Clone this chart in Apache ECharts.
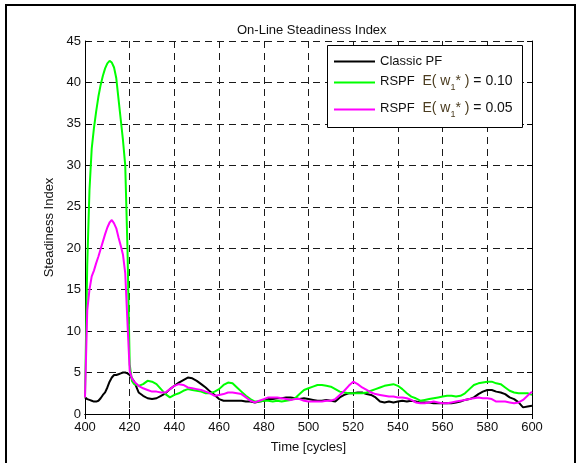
<!DOCTYPE html>
<html>
<head>
<meta charset="utf-8">
<title>On-Line Steadiness Index</title>
<script src="https://cdn.jsdelivr.net/npm/echarts@6/dist/echarts.min.js"></script>
<style>
  html, body { margin: 0; padding: 0; background: #fff; }
  #main { width: 581px; height: 463px; }
</style>
</head>
<body>
<div id="main"></div>
<script>
// time samples [cycles]
var timeCycles = [400,401,402,403,404,405,406,407,408,409,410,411,412,413,414,415,416,417,418,419,420,421,422,
  424,426,428,430,432,434,436,438,440,442,444,446,448,450,452,454,456,458,460,462,464,466,468,470,
  472,474,476,478,480,482,484,486,488,490,492,494,496,498,500,502,504,506,508,510,512,514,516,518,520,
  522,524,526,528,530,532,534,536,538,540,542,544,546,548,550,552,554,556,558,560,562,564,566,568,570,
  572,574,576,578,580,582,584,586,588,590,592,594,596,598,600];

var classicPF = [2.0,1.8,1.7,1.6,1.5,1.5,1.6,1.9,2.3,2.6,3.2,3.9,4.4,4.7,4.7,4.8,4.9,5.0,5.0,4.9,4.7,4.3,3.9,
  2.6,2.2,1.9,1.8,1.9,2.2,2.5,3.0,3.4,3.8,4.1,4.4,4.3,4.0,3.6,3.2,2.7,2.3,1.8,1.6,1.6,1.6,1.6,1.6,
  1.5,1.5,1.4,1.5,1.6,1.8,1.8,1.9,1.9,2.0,2.0,1.9,1.8,1.9,1.8,1.7,1.6,1.6,1.7,1.6,1.5,2.0,2.3,2.5,2.5,
  2.6,2.6,2.4,2.3,2.0,1.5,1.4,1.5,1.4,1.5,1.6,1.5,1.6,1.5,1.4,1.4,1.4,1.3,1.3,1.3,1.3,1.3,1.4,1.5,1.7,
  1.8,2.0,2.4,2.7,2.9,2.9,2.7,2.6,2.4,2.0,1.8,1.4,0.8,0.9,1.0];

var rspf010 = [2.0,18,27,32,34.5,36.5,38.3,39.7,40.8,41.7,42.3,42.6,42.4,41.8,40.5,38,35.5,33,30,20,6,4.0,3.6,
  3.4,3.6,4.0,3.9,3.6,3.0,2.4,2.0,2.3,2.5,2.8,3.0,2.9,2.8,2.7,2.5,2.5,2.7,3.0,3.5,3.8,3.7,3.2,2.7,
  2.2,1.8,1.5,1.5,1.6,1.6,1.5,1.6,1.5,1.6,1.7,1.9,2.4,2.9,3.1,3.3,3.5,3.5,3.4,3.3,3.0,2.7,2.6,2.5,2.5,
  2.5,2.5,2.6,2.8,3.0,3.2,3.4,3.5,3.6,3.4,3.0,2.5,2.1,1.9,1.6,1.7,1.8,1.9,2.0,2.1,2.2,2.2,2.1,2.2,2.5,
  3.0,3.5,3.7,3.8,3.9,3.9,3.7,3.6,3.2,2.8,2.6,2.5,2.5,2.5,2.3];

var rspf005 = [2.0,12.5,15,16.6,17.3,18.2,19,19.9,20.8,21.7,22.5,23.1,23.4,23.0,22.4,21.3,20.3,19.2,17,11,5.2,4.3,3.9,
  3.4,3.1,2.9,2.7,2.7,2.6,2.6,3.0,3.4,3.6,3.5,3.2,3.1,3.0,2.9,2.7,2.5,2.2,2.3,2.4,2.6,2.6,2.5,2.4,
  2.0,1.6,1.4,1.6,1.8,2.0,2.0,2.0,1.9,1.8,1.7,1.8,1.8,1.6,1.5,1.5,1.5,1.5,1.6,1.6,1.8,2.3,2.8,3.4,3.9,
  3.6,3.2,2.9,2.6,2.4,2.3,2.2,2.1,2.1,2.0,2.0,1.9,1.7,1.4,1.3,1.3,1.4,1.5,1.4,1.3,1.3,1.4,1.5,1.6,1.7,
  1.8,1.9,2.0,1.9,1.9,1.8,1.5,1.5,1.5,1.4,1.3,1.4,1.7,2.2,2.7];

var seriesNames = ['Classic PF', 'RSPF 0.10', 'RSPF 0.05'];
var seriesColors = ['#000000', '#00ff00', '#ff00ff'];
var xTicks = { min: 400, max: 600, step: 20 };
var yTicks = { min: 0, max: 45, step: 5 };

function pairs(vals) {
  return timeCycles.map(function (t, i) { return [t, vals[i]]; });
}

var chart = echarts.init(document.getElementById('main'));
var font = 'Liberation Sans, Arial, sans-serif';
var dash = { color: '#1a1a1a', width: 1, type: [7, 5] };

var legendRich = {
  n: { fontFamily: font, fontSize: 13, color: '#111', lineHeight: 16, verticalAlign: 'top' },
  e: { fontFamily: font, fontSize: 14, color: '#4a3b1e', lineHeight: 16, verticalAlign: 'top' },
  s: { fontFamily: font, fontSize: 9, color: '#4a3b1e', lineHeight: 10, padding: [10, 0, 0, 0] },
  k: { fontFamily: font, fontSize: 14, color: '#111', lineHeight: 16, verticalAlign: 'top' }
};

function legendLabel(val) {
  return '{n|RSPF}{k|  }{e|E( w}{s|1}{e|* )}{k| = ' + val + '}';
}

function oneLegend(name, top, fmt) {
  return {
    data: [name],
    orient: 'vertical',
    left: 334,
    top: top,
    padding: 0,
    icon: 'rect',
    itemWidth: 41,
    itemHeight: 2,
    z: 6,
    selectedMode: false,
    formatter: fmt,
    textStyle: { fontFamily: font, fontSize: 13, color: '#111', rich: legendRich }
  };
}

var option = {
  backgroundColor: '#ffffff',
  animation: false,
  title: {
    text: 'On-Line Steadiness Index',
    left: 232,
    top: 19,
    textStyle: { fontFamily: font, fontSize: 13, fontWeight: 'normal', color: '#111' }
  },
  grid: { left: 85, right: 49, top: 41, bottom: 49, containLabel: false },
  legend: [
    oneLegend(seriesNames[0], 55, function (n) { return n; }),
    oneLegend(seriesNames[1], 73, function () { return legendLabel('0.10'); }),
    oneLegend(seriesNames[2], 100, function () { return legendLabel('0.05'); })
  ],
  graphic: [
    { type: 'rect', z: 5, shape: { x: 6, y: 5, width: 569, height: 480 },
      style: { fill: 'none', stroke: '#000', lineWidth: 2 }, silent: true },
    { type: 'rect', z: 5, shape: { x: 327.5, y: 45.5, width: 195, height: 82 },
      style: { fill: '#fff', stroke: '#000', lineWidth: 1 }, silent: true }
  ],
  xAxis: [{
    type: 'value',
    min: xTicks.min, max: xTicks.max, interval: xTicks.step,
    position: 'bottom',
    name: 'Time [cycles]',
    nameLocation: 'middle',
    nameGap: 27,
    nameTextStyle: { fontFamily: font, fontSize: 13, color: '#111' },
    axisLine: { lineStyle: { color: '#000', width: 1 } },
    axisTick: { inside: true, length: 5, lineStyle: { color: '#000' } },
    axisLabel: { fontFamily: font, fontSize: 13, color: '#111', margin: 7 },
    splitLine: { show: true, lineStyle: dash }
  }, {
    type: 'value',
    min: xTicks.min, max: xTicks.max, interval: xTicks.step,
    position: 'top',
    axisLine: { lineStyle: { color: '#000', width: 1 } },
    axisTick: { inside: true, length: 5, lineStyle: { color: '#000' } },
    axisLabel: { show: false },
    splitLine: { show: false }
  }],
  yAxis: [{
    type: 'value',
    min: yTicks.min, max: yTicks.max, interval: yTicks.step,
    position: 'left',
    name: 'Steadiness Index',
    nameLocation: 'middle',
    nameGap: 24,
    nameTextStyle: { fontFamily: font, fontSize: 13, color: '#111' },
    axisLine: { show: true, lineStyle: { color: '#000', width: 1 } },
    axisTick: { show: true, inside: true, length: 5, lineStyle: { color: '#000' } },
    axisLabel: { fontFamily: font, fontSize: 13, color: '#111', margin: 4 },
    splitLine: { show: true, lineStyle: dash }
  }, {
    type: 'value',
    min: yTicks.min, max: yTicks.max, interval: yTicks.step,
    position: 'right',
    axisLine: { show: true, lineStyle: { color: '#000', width: 1 } },
    axisTick: { show: true, inside: true, length: 5, lineStyle: { color: '#000' } },
    axisLabel: { show: false },
    splitLine: { show: false }
  }],
  series: [classicPF, rspf010, rspf005].map(function (vals, i) {
    return {
      name: seriesNames[i],
      type: 'line',
      data: pairs(vals),
      symbol: 'none',
      showSymbol: false,
      smooth: false,
      z: 2,
      lineStyle: { color: seriesColors[i], width: 2 },
      itemStyle: { color: seriesColors[i] }
    };
  })
};

chart.setOption(option);
</script>
</body>
</html>
